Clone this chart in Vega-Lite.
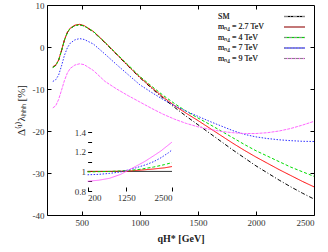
{
  "$schema": "https://vega.github.io/schema/vega-lite/v6.json",
  "width": 267,
  "height": 210,
  "autosize": "none",
  "padding": {"left": 47, "top": 5, "right": 14, "bottom": 37},
  "config": {
    "view": {"stroke": "#000000", "strokeWidth": 1},
    "font": "Liberation Serif",
    "axis": {"labelFont": "Liberation Serif", "titleFont": "Liberation Serif", "labelFontSize": 9, "labelColor": "#333", "titleColor": "#222", "grid": false, "domain": false, "tickColor": "#000", "tickSize": -4, "labelPadding": 7, "format": "d"}
  },
  "datasets": {
    "main": [
      {"x":250,"y":-4.8,"s":"SM"},{"x":275,"y":-4.4,"s":"SM"},{"x":300,"y":-3.2,"s":"SM"},{"x":325,"y":-0.9,"s":"SM"},{"x":350,"y":1.6,"s":"SM"},{"x":375,"y":3.4,"s":"SM"},{"x":400,"y":4.4,"s":"SM"},{"x":440,"y":5.1,"s":"SM"},{"x":480,"y":5.3,"s":"SM"},{"x":520,"y":5.0,"s":"SM"},{"x":600,"y":3.6,"s":"SM"},{"x":700,"y":1.0,"s":"SM"},{"x":800,"y":-1.8,"s":"SM"},{"x":900,"y":-4.6,"s":"SM"},{"x":1000,"y":-7.3,"s":"SM"},{"x":1100,"y":-9.8,"s":"SM"},{"x":1200,"y":-12.2,"s":"SM"},{"x":1300,"y":-14.4,"s":"SM"},{"x":1400,"y":-16.5,"s":"SM"},{"x":1500,"y":-18.5,"s":"SM"},{"x":1600,"y":-20.5,"s":"SM"},{"x":1700,"y":-22.5,"s":"SM"},{"x":1800,"y":-24.5,"s":"SM"},{"x":1900,"y":-26.4,"s":"SM"},{"x":2000,"y":-28.3,"s":"SM"},{"x":2100,"y":-30.0,"s":"SM"},{"x":2200,"y":-31.7,"s":"SM"},{"x":2300,"y":-33.3,"s":"SM"},{"x":2400,"y":-34.8,"s":"SM"},{"x":2500,"y":-36.2,"s":"SM"},

      {"x":250,"y":-4.7,"s":"mₙ₄ = 2.7 TeV"},{"x":275,"y":-4.3,"s":"mₙ₄ = 2.7 TeV"},{"x":300,"y":-3.1,"s":"mₙ₄ = 2.7 TeV"},{"x":325,"y":-0.8,"s":"mₙ₄ = 2.7 TeV"},{"x":350,"y":1.7,"s":"mₙ₄ = 2.7 TeV"},{"x":375,"y":3.5,"s":"mₙ₄ = 2.7 TeV"},{"x":400,"y":4.5,"s":"mₙ₄ = 2.7 TeV"},{"x":440,"y":5.2,"s":"mₙ₄ = 2.7 TeV"},{"x":480,"y":5.4,"s":"mₙ₄ = 2.7 TeV"},{"x":520,"y":5.1,"s":"mₙ₄ = 2.7 TeV"},{"x":600,"y":3.7,"s":"mₙ₄ = 2.7 TeV"},{"x":700,"y":1.1,"s":"mₙ₄ = 2.7 TeV"},{"x":800,"y":-1.7,"s":"mₙ₄ = 2.7 TeV"},{"x":900,"y":-4.5,"s":"mₙ₄ = 2.7 TeV"},{"x":1000,"y":-7.2,"s":"mₙ₄ = 2.7 TeV"},{"x":1100,"y":-9.6,"s":"mₙ₄ = 2.7 TeV"},{"x":1200,"y":-11.9,"s":"mₙ₄ = 2.7 TeV"},{"x":1300,"y":-14.0,"s":"mₙ₄ = 2.7 TeV"},{"x":1400,"y":-15.8,"s":"mₙ₄ = 2.7 TeV"},{"x":1500,"y":-17.5,"s":"mₙ₄ = 2.7 TeV"},{"x":1600,"y":-19.3,"s":"mₙ₄ = 2.7 TeV"},{"x":1700,"y":-21.1,"s":"mₙ₄ = 2.7 TeV"},{"x":1800,"y":-22.9,"s":"mₙ₄ = 2.7 TeV"},{"x":1900,"y":-24.6,"s":"mₙ₄ = 2.7 TeV"},{"x":2000,"y":-26.2,"s":"mₙ₄ = 2.7 TeV"},{"x":2100,"y":-27.7,"s":"mₙ₄ = 2.7 TeV"},{"x":2200,"y":-29.2,"s":"mₙ₄ = 2.7 TeV"},{"x":2300,"y":-30.6,"s":"mₙ₄ = 2.7 TeV"},{"x":2400,"y":-32.0,"s":"mₙ₄ = 2.7 TeV"},{"x":2500,"y":-33.3,"s":"mₙ₄ = 2.7 TeV"},

      {"x":250,"y":-4.9,"s":"mₙ₄ = 4 TeV"},{"x":275,"y":-4.4,"s":"mₙ₄ = 4 TeV"},{"x":300,"y":-3.2,"s":"mₙ₄ = 4 TeV"},{"x":325,"y":-0.9,"s":"mₙ₄ = 4 TeV"},{"x":350,"y":1.6,"s":"mₙ₄ = 4 TeV"},{"x":375,"y":3.4,"s":"mₙ₄ = 4 TeV"},{"x":400,"y":4.4,"s":"mₙ₄ = 4 TeV"},{"x":440,"y":5.1,"s":"mₙ₄ = 4 TeV"},{"x":480,"y":5.3,"s":"mₙ₄ = 4 TeV"},{"x":520,"y":5.0,"s":"mₙ₄ = 4 TeV"},{"x":600,"y":3.7,"s":"mₙ₄ = 4 TeV"},{"x":700,"y":1.1,"s":"mₙ₄ = 4 TeV"},{"x":800,"y":-1.6,"s":"mₙ₄ = 4 TeV"},{"x":900,"y":-4.3,"s":"mₙ₄ = 4 TeV"},{"x":1000,"y":-7.0,"s":"mₙ₄ = 4 TeV"},{"x":1100,"y":-9.3,"s":"mₙ₄ = 4 TeV"},{"x":1200,"y":-11.5,"s":"mₙ₄ = 4 TeV"},{"x":1300,"y":-13.5,"s":"mₙ₄ = 4 TeV"},{"x":1400,"y":-15.3,"s":"mₙ₄ = 4 TeV"},{"x":1500,"y":-16.9,"s":"mₙ₄ = 4 TeV"},{"x":1600,"y":-18.4,"s":"mₙ₄ = 4 TeV"},{"x":1700,"y":-20.0,"s":"mₙ₄ = 4 TeV"},{"x":1800,"y":-21.6,"s":"mₙ₄ = 4 TeV"},{"x":1900,"y":-23.2,"s":"mₙ₄ = 4 TeV"},{"x":2000,"y":-24.7,"s":"mₙ₄ = 4 TeV"},{"x":2100,"y":-26.0,"s":"mₙ₄ = 4 TeV"},{"x":2200,"y":-27.3,"s":"mₙ₄ = 4 TeV"},{"x":2300,"y":-28.6,"s":"mₙ₄ = 4 TeV"},{"x":2400,"y":-29.7,"s":"mₙ₄ = 4 TeV"},{"x":2500,"y":-30.8,"s":"mₙ₄ = 4 TeV"},

      {"x":250,"y":-8.2,"s":"mₙ₄ = 7 TeV"},{"x":275,"y":-7.8,"s":"mₙ₄ = 7 TeV"},{"x":300,"y":-6.7,"s":"mₙ₄ = 7 TeV"},{"x":325,"y":-4.5,"s":"mₙ₄ = 7 TeV"},{"x":350,"y":-2.0,"s":"mₙ₄ = 7 TeV"},{"x":375,"y":-0.2,"s":"mₙ₄ = 7 TeV"},{"x":400,"y":0.9,"s":"mₙ₄ = 7 TeV"},{"x":440,"y":1.7,"s":"mₙ₄ = 7 TeV"},{"x":480,"y":2.0,"s":"mₙ₄ = 7 TeV"},{"x":520,"y":1.8,"s":"mₙ₄ = 7 TeV"},{"x":600,"y":0.7,"s":"mₙ₄ = 7 TeV"},{"x":700,"y":-1.7,"s":"mₙ₄ = 7 TeV"},{"x":800,"y":-4.2,"s":"mₙ₄ = 7 TeV"},{"x":900,"y":-6.6,"s":"mₙ₄ = 7 TeV"},{"x":1000,"y":-9.0,"s":"mₙ₄ = 7 TeV"},{"x":1100,"y":-10.8,"s":"mₙ₄ = 7 TeV"},{"x":1200,"y":-12.5,"s":"mₙ₄ = 7 TeV"},{"x":1300,"y":-14.0,"s":"mₙ₄ = 7 TeV"},{"x":1400,"y":-15.3,"s":"mₙ₄ = 7 TeV"},{"x":1500,"y":-16.5,"s":"mₙ₄ = 7 TeV"},{"x":1600,"y":-17.7,"s":"mₙ₄ = 7 TeV"},{"x":1700,"y":-18.8,"s":"mₙ₄ = 7 TeV"},{"x":1800,"y":-19.9,"s":"mₙ₄ = 7 TeV"},{"x":1900,"y":-20.8,"s":"mₙ₄ = 7 TeV"},{"x":2000,"y":-21.4,"s":"mₙ₄ = 7 TeV"},{"x":2100,"y":-21.8,"s":"mₙ₄ = 7 TeV"},{"x":2200,"y":-22.1,"s":"mₙ₄ = 7 TeV"},{"x":2300,"y":-22.3,"s":"mₙ₄ = 7 TeV"},{"x":2400,"y":-22.45,"s":"mₙ₄ = 7 TeV"},{"x":2500,"y":-22.5,"s":"mₙ₄ = 7 TeV"},

      {"x":250,"y":-14.5,"s":"mₙ₄ = 9 TeV"},{"x":275,"y":-14.0,"s":"mₙ₄ = 9 TeV"},{"x":300,"y":-12.5,"s":"mₙ₄ = 9 TeV"},{"x":325,"y":-10.3,"s":"mₙ₄ = 9 TeV"},{"x":350,"y":-8.0,"s":"mₙ₄ = 9 TeV"},{"x":375,"y":-6.2,"s":"mₙ₄ = 9 TeV"},{"x":400,"y":-5.1,"s":"mₙ₄ = 9 TeV"},{"x":440,"y":-4.3,"s":"mₙ₄ = 9 TeV"},{"x":480,"y":-4.0,"s":"mₙ₄ = 9 TeV"},{"x":520,"y":-4.2,"s":"mₙ₄ = 9 TeV"},{"x":600,"y":-5.6,"s":"mₙ₄ = 9 TeV"},{"x":700,"y":-8.2,"s":"mₙ₄ = 9 TeV"},{"x":800,"y":-10.0,"s":"mₙ₄ = 9 TeV"},{"x":900,"y":-11.6,"s":"mₙ₄ = 9 TeV"},{"x":1000,"y":-13.1,"s":"mₙ₄ = 9 TeV"},{"x":1100,"y":-14.6,"s":"mₙ₄ = 9 TeV"},{"x":1200,"y":-16.0,"s":"mₙ₄ = 9 TeV"},{"x":1300,"y":-17.2,"s":"mₙ₄ = 9 TeV"},{"x":1400,"y":-18.2,"s":"mₙ₄ = 9 TeV"},{"x":1500,"y":-19.0,"s":"mₙ₄ = 9 TeV"},{"x":1600,"y":-19.6,"s":"mₙ₄ = 9 TeV"},{"x":1700,"y":-20.1,"s":"mₙ₄ = 9 TeV"},{"x":1800,"y":-20.4,"s":"mₙ₄ = 9 TeV"},{"x":1900,"y":-20.6,"s":"mₙ₄ = 9 TeV"},{"x":2000,"y":-20.6,"s":"mₙ₄ = 9 TeV"},{"x":2100,"y":-20.4,"s":"mₙ₄ = 9 TeV"},{"x":2200,"y":-20.0,"s":"mₙ₄ = 9 TeV"},{"x":2300,"y":-19.4,"s":"mₙ₄ = 9 TeV"},{"x":2400,"y":-18.6,"s":"mₙ₄ = 9 TeV"},{"x":2500,"y":-17.7,"s":"mₙ₄ = 9 TeV"}
    ],
    "inset": [
      {"x":200,"r":1.0,"s":"SM"},{"x":2500,"r":1.0,"s":"SM"},
      {"x":200,"r":1.0,"s":"mₙ₄ = 2.7 TeV"},{"x":800,"r":1.0,"s":"mₙ₄ = 2.7 TeV"},{"x":1250,"r":1.003,"s":"mₙ₄ = 2.7 TeV"},{"x":1600,"r":1.012,"s":"mₙ₄ = 2.7 TeV"},{"x":2000,"r":1.025,"s":"mₙ₄ = 2.7 TeV"},{"x":2300,"r":1.037,"s":"mₙ₄ = 2.7 TeV"},{"x":2500,"r":1.05,"s":"mₙ₄ = 2.7 TeV"},
      {"x":200,"r":0.995,"s":"mₙ₄ = 4 TeV"},{"x":800,"r":1.0,"s":"mₙ₄ = 4 TeV"},{"x":1250,"r":1.008,"s":"mₙ₄ = 4 TeV"},{"x":1600,"r":1.02,"s":"mₙ₄ = 4 TeV"},{"x":2000,"r":1.045,"s":"mₙ₄ = 4 TeV"},{"x":2300,"r":1.07,"s":"mₙ₄ = 4 TeV"},{"x":2500,"r":1.09,"s":"mₙ₄ = 4 TeV"},
      {"x":200,"r":0.966,"s":"mₙ₄ = 7 TeV"},{"x":500,"r":0.97,"s":"mₙ₄ = 7 TeV"},{"x":800,"r":0.98,"s":"mₙ₄ = 7 TeV"},{"x":1100,"r":0.995,"s":"mₙ₄ = 7 TeV"},{"x":1250,"r":1.01,"s":"mₙ₄ = 7 TeV"},{"x":1500,"r":1.035,"s":"mₙ₄ = 7 TeV"},{"x":1800,"r":1.07,"s":"mₙ₄ = 7 TeV"},{"x":2000,"r":1.1,"s":"mₙ₄ = 7 TeV"},{"x":2200,"r":1.14,"s":"mₙ₄ = 7 TeV"},{"x":2400,"r":1.19,"s":"mₙ₄ = 7 TeV"},{"x":2500,"r":1.22,"s":"mₙ₄ = 7 TeV"},
      {"x":200,"r":0.9,"s":"mₙ₄ = 9 TeV"},{"x":500,"r":0.91,"s":"mₙ₄ = 9 TeV"},{"x":800,"r":0.93,"s":"mₙ₄ = 9 TeV"},{"x":1100,"r":0.97,"s":"mₙ₄ = 9 TeV"},{"x":1250,"r":1.0,"s":"mₙ₄ = 9 TeV"},{"x":1500,"r":1.05,"s":"mₙ₄ = 9 TeV"},{"x":1750,"r":1.1,"s":"mₙ₄ = 9 TeV"},{"x":2000,"r":1.16,"s":"mₙ₄ = 9 TeV"},{"x":2200,"r":1.21,"s":"mₙ₄ = 9 TeV"},{"x":2400,"r":1.27,"s":"mₙ₄ = 9 TeV"},{"x":2500,"r":1.3,"s":"mₙ₄ = 9 TeV"}
    ]
  },
  "layer": [
    {
      "data": {"name": "main"},
      "mark": {"type": "line", "strokeWidth": 1},
      "encoding": {
        "x": {"field": "x", "type": "quantitative", "scale": {"domain": [200, 2500], "nice": false, "zero": false},
              "axis": {"values": [500, 1000, 1500, 2000, 2500], "title": "qH* [GeV]", "titleFontSize": 10, "titleFontWeight": "bold", "titlePadding": 6}},
        "y": {"field": "y", "type": "quantitative", "scale": {"domain": [-40, 10], "nice": false, "zero": false},
              "axis": {"values": [-40, -30, -20, -10, 0, 10], "labelExpr": "'' + datum.value", "title": "Δ⁽¹⁾λₕₕₕ [%]", "titleFontSize": 11, "titleFontWeight": "normal", "titlePadding": 6}},
        "color": {"field": "s", "type": "nominal",
                  "scale": {"domain": ["SM", "mₙ₄ = 2.7 TeV", "mₙ₄ = 4 TeV", "mₙ₄ = 7 TeV", "mₙ₄ = 9 TeV"], "range": ["#000000", "#ff0000", "#00dd00", "#3030ff", "#ff66ff"]},
                  "legend": {"orient": "none", "legendX": 243, "legendY": 7, "title": null, "symbolType": "M-3,0L3,0", "symbolSize": 49, "symbolStrokeWidth": 1.2, "labelOffset": -81, "labelFont": "Liberation Serif", "labelFontSize": 8, "labelFontWeight": "normal", "labelColor": "#333", "rowPadding": 1.5}},
        "strokeDash": {"field": "s", "type": "nominal",
                  "scale": {"domain": ["SM", "mₙ₄ = 2.7 TeV", "mₙ₄ = 4 TeV", "mₙ₄ = 7 TeV", "mₙ₄ = 9 TeV"], "range": [[4, 2, 1, 2], [1, 0], [3, 2], [1.5, 1.5], [3, 1]]},
                  "legend": {"orient": "none", "legendX": 243, "legendY": 7, "title": null, "symbolType": "M-3,0L3,0", "symbolSize": 49, "symbolStrokeWidth": 1.2, "labelOffset": -81, "labelFont": "Liberation Serif", "labelFontSize": 8, "labelFontWeight": "normal", "labelColor": "#333", "rowPadding": 1.5}}
      }
    },
    {
      "data": {"name": "main"},
      "mark": {"type": "point", "opacity": 0},
      "encoding": {
        "x": {"field": "x", "type": "quantitative", "scale": {"domain": [200, 2500], "nice": false, "zero": false},
              "axis": {"orient": "top", "values": [500, 1000, 1500, 2000], "labels": false, "title": null}},
        "y": {"field": "y", "type": "quantitative", "scale": {"domain": [-40, 10], "nice": false, "zero": false},
              "axis": {"orient": "right", "values": [-30, -20, -10, 0], "labels": false, "title": null}}
      }
    },
    {
      "mark": {"type": "rect", "fill": "#ffffff", "stroke": "#000000", "strokeWidth": 1},
      "encoding": {
        "x": {"datum": 200, "type": "quantitative", "scale": {"domain": [200, 2500], "range": [40.6, 125], "nice": false, "zero": false},
              "axis": {"orient": "bottom", "offset": -24, "values": [200, 1250, 2500], "title": null, "labelPadding": 6}},
        "x2": {"datum": 2500},
        "y": {"datum": 0.8, "type": "quantitative", "scale": {"domain": [0.8, 1.4], "range": [186, 127.3], "nice": false, "zero": false},
              "axis": {"orient": "left", "offset": -40.6, "values": [0.8, 0.9, 1.0, 1.1, 1.2, 1.3, 1.4], "labelExpr": "round(datum.value * 10) % 2 == 0 ? format(datum.value, '~g') : ''", "title": null, "labelPadding": 6}},
        "y2": {"datum": 1.4}
      }
    },
    {
      "data": {"name": "inset"},
      "mark": {"type": "line", "strokeWidth": 1},
      "encoding": {
        "x": {"field": "x", "type": "quantitative", "scale": {"domain": [200, 2500], "range": [40.6, 125], "nice": false, "zero": false}, "axis": null},
        "y": {"field": "r", "type": "quantitative", "scale": {"domain": [0.8, 1.4], "range": [186, 127.3], "nice": false, "zero": false}, "axis": null},
        "color": {"field": "s", "type": "nominal", "legend": null},
        "strokeDash": {"field": "s", "type": "nominal", "legend": null, "scale": {"domain": ["SM", "mₙ₄ = 2.7 TeV", "mₙ₄ = 4 TeV", "mₙ₄ = 7 TeV", "mₙ₄ = 9 TeV"], "range": [[1, 0], [1, 0], [3, 2], [1.5, 1.5], [1, 0]]}}
      }
    }
  ],
  "resolve": {"scale": {"x": "independent", "y": "independent", "strokeDash": "independent"}, "axis": {"x": "independent", "y": "independent"}}
}
